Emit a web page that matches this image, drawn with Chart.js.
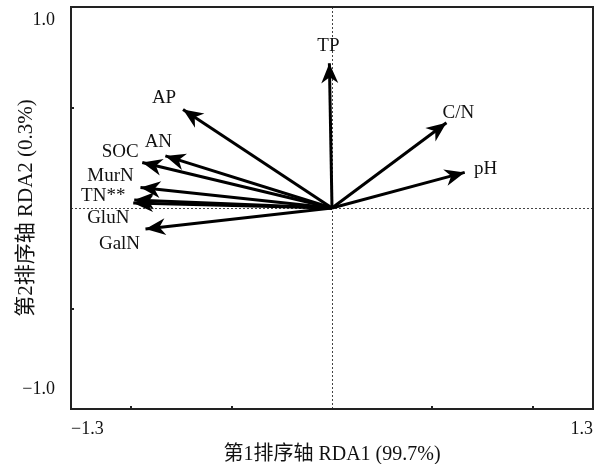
<!DOCTYPE html>
<html>
<head>
<meta charset="utf-8">
<script src="https://cdn.jsdelivr.net/npm/chart.js@4/dist/chart.umd.min.js"></script>
<style>
  html, body { margin: 0; padding: 0; background: #ffffff; }
  #wrap { width: 602px; height: 464px; }
</style>
</head>
<body>
<div id="wrap"><canvas id="c" width="602" height="464"></canvas></div>
<script>
// ---- data ----
const variableNames = ['TP', 'AP', 'AN', 'SOC', 'MurN', 'TN**', 'GluN', 'GalN', 'C/N', 'pH'];
const rda1Scores = [-0.013, -0.742, -0.830, -0.945, -0.954, -0.985, -0.990, -0.929, 0.570, 0.661];
const rda2Scores = [0.720, 0.490, 0.259, 0.226, 0.102, 0.040, 0.025, -0.104, 0.424, 0.177];
const xTickValues = [-1.3, -1, -0.5, 0, 0.5, 1, 1.3];
const xTickLabels = ['\u22121.3', '', '', '', '', '', '1.3'];
const yTickValues = [-1, -0.5, 0, 0.5, 1];
const yTickLabels = ['\u22121.0', '', '', '', '1.0'];
const xAxisTitle = '第1排序轴 RDA1 (99.7%)';
const yAxisTitle = '第2排序轴 RDA2 (0.3%)';

// ---- styling (label offsets in px relative to arrow tip) ----
const labelOffsets = [[-1, -17], [-19, -11], [-7, -14], [-22, -11], [-30, -11], [-31, -4], [-25, 15], [-26, 15], [12, -10], [21, -3]];
const FONT = "'Liberation Serif', 'Times New Roman', 'Noto Sans CJK SC', serif";
const INK = '#111111';

const datasets = variableNames.map((n, i) => ({
  label: n,
  data: [{x: 0, y: 0}, {x: rda1Scores[i], y: rda2Scores[i]}],
  showLine: true,
  borderColor: '#000',
  borderWidth: 3,
  pointRadius: 0,
  pointHoverRadius: 0,
  fill: false
}));

const biplotPlugin = {
  id: 'biplot',
  beforeDatasetsDraw(chart) {
    const {ctx, chartArea: a, scales: {x, y}} = chart;
    ctx.save();
    ctx.strokeStyle = '#444';
    ctx.lineWidth = 1;
    ctx.setLineDash([2, 2]);
    const x0 = Math.round(x.getPixelForValue(0)) + 0.5;
    const y0 = Math.round(y.getPixelForValue(0)) + 0.5;
    ctx.beginPath();
    ctx.moveTo(x0, a.top); ctx.lineTo(x0, a.bottom);
    ctx.moveTo(a.left, y0); ctx.lineTo(a.right, y0);
    ctx.stroke();
    ctx.restore();
  },
  afterDatasetsDraw(chart) {
    const {ctx, chartArea: a, scales: {x, y}} = chart;
    const ox = x.getPixelForValue(0), oy = y.getPixelForValue(0);
    ctx.save();
    // arrow heads
    ctx.fillStyle = '#000';
    variableNames.forEach((n, i) => {
      const tx = x.getPixelForValue(rda1Scores[i]);
      const ty = y.getPixelForValue(rda2Scores[i]);
      const dx = tx - ox, dy = ty - oy;
      const len = Math.hypot(dx, dy);
      const ux = dx / len, uy = dy / len;
      const nx = -uy, ny = ux;
      const L = 20, W = 8.5, N = 14;
      ctx.beginPath();
      ctx.moveTo(tx, ty);
      ctx.lineTo(tx - ux * L + nx * W, ty - uy * L + ny * W);
      ctx.lineTo(tx - ux * N, ty - uy * N);
      ctx.lineTo(tx - ux * L - nx * W, ty - uy * L - ny * W);
      ctx.closePath();
      ctx.fill();
    });
    // labels
    ctx.fillStyle = INK;
    ctx.font = "19px " + FONT;
    ctx.textAlign = 'center';
    ctx.textBaseline = 'middle';
    variableNames.forEach((n, i) => {
      const tx = x.getPixelForValue(rda1Scores[i]);
      const ty = y.getPixelForValue(rda2Scores[i]);
      ctx.fillText(n, tx + labelOffsets[i][0], ty + labelOffsets[i][1]);
    });
    // frame
    ctx.strokeStyle = '#222';
    ctx.lineWidth = 2;
    ctx.strokeRect(a.left, a.top, a.right - a.left, a.bottom - a.top);
    // inward ticks
    ctx.lineWidth = 2;
    ctx.beginPath();
    xTickValues.forEach(v => {
      if (Math.abs(v) >= 1.3 || v === 0) return;
      const px = Math.round(x.getPixelForValue(v));
      ctx.moveTo(px, a.bottom); ctx.lineTo(px, a.bottom - 3);
    });
    yTickValues.forEach(v => {
      if (Math.abs(v) >= 1 || v === 0) return;
      const py = Math.round(y.getPixelForValue(v));
      ctx.moveTo(a.left, py); ctx.lineTo(a.left + 3, py);
    });
    ctx.stroke();
    // y end labels (placed inward like the reference)
    ctx.fillStyle = INK;
    ctx.font = "18px " + FONT;
    ctx.textAlign = 'right';
    ctx.textBaseline = 'middle';
    yTickValues.forEach((v, i) => {
      if (!yTickLabels[i]) return;
      const py = y.getPixelForValue(v) + (v > 0 ? 13 : -20);
      ctx.fillText(yTickLabels[i], a.left - 16, py);
    });
    ctx.restore();
  }
};

new Chart(document.getElementById('c'), {
  type: 'scatter',
  data: { datasets },
  options: {
    responsive: false,
    devicePixelRatio: 1,
    animation: false,
    events: [],
    layout: { padding: { left: 4, right: 9, top: 7, bottom: 0 } },
    plugins: { legend: { display: false }, tooltip: { enabled: false } },
    scales: {
      x: {
        type: 'linear', min: -1.3, max: 1.3,
        afterBuildTicks: s => { s.ticks = xTickValues.map(v => ({value: v})); },
        afterFit: s => { s.height = 55; },
        grid: { display: false, drawTicks: false, tickLength: 0 },
        border: { display: false },
        ticks: {
          autoSkip: false, maxRotation: 0, align: 'inner', padding: 9,
          color: INK, font: { family: FONT, size: 18 },
          callback: (v, i) => xTickLabels[i]
        },
        title: { display: true, text: xAxisTitle, color: INK, font: { family: FONT, size: 20 }, padding: { top: 0, bottom: -3 } }
      },
      y: {
        type: 'linear', min: -1, max: 1,
        afterBuildTicks: s => { s.ticks = yTickValues.map(v => ({value: v})); },
        afterFit: s => { s.width = 67; },
        grid: { display: false, drawTicks: false, tickLength: 0 },
        border: { display: false },
        ticks: { display: false },
        title: { display: true, text: yAxisTitle, color: INK, font: { family: FONT, size: 21 }, padding: { top: 10, bottom: 26 } }
      }
    }
  },
  plugins: [biplotPlugin]
});
</script>
</body>
</html>
